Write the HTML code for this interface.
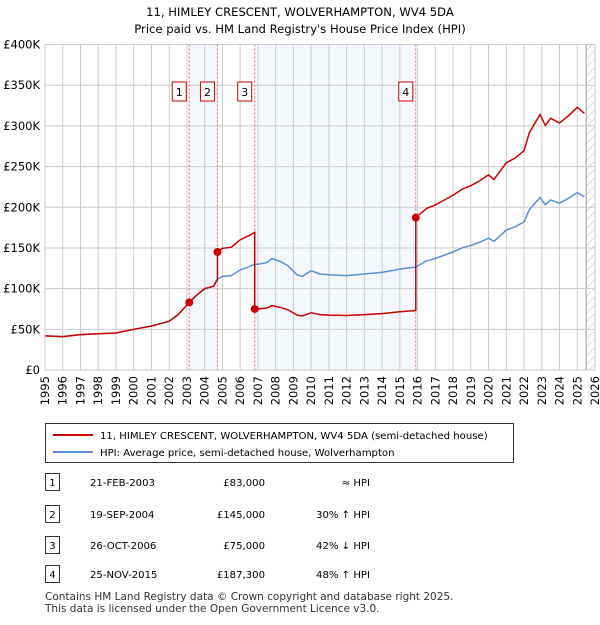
<!DOCTYPE html>
<html><head><meta charset="utf-8"><style>
body{margin:0;background:#fff;font-family:"Liberation Sans","DejaVu Sans",sans-serif;}
svg text{font-family:"DejaVu Sans","Liberation Sans",sans-serif;}
</style></head><body>
<svg id="c" width="600" height="620" viewBox="0 0 600 620" xmlns="http://www.w3.org/2000/svg">
<defs><pattern id="hatch" width="6" height="6" patternUnits="userSpaceOnUse" patternTransform="rotate(45)"><line x1="0" y1="0" x2="0" y2="6" stroke="#bbb" stroke-width="1"/></pattern></defs>
<text x="300" y="16" text-anchor="middle" font-size="11.6">11, HIMLEY CRESCENT, WOLVERHAMPTON, WV4 5DA</text>
<text x="300" y="33" text-anchor="middle" font-size="11.6">Price paid vs. HM Land Registry's House Price Index (HPI)</text>
<g id="plot"></g>
<g>
<rect x="45.5" y="423.5" width="468" height="39" fill="#fff" stroke="#333"/>
<line x1="53" y1="435" x2="93" y2="435" stroke="#cc0000" stroke-width="2"/>
<text x="100" y="439" font-size="10.1">11, HIMLEY CRESCENT, WOLVERHAMPTON, WV4 5DA (semi-detached house)</text>
<line x1="53" y1="452" x2="93" y2="452" stroke="#5b8fd6" stroke-width="2"/>
<text x="100" y="456" font-size="10.1">HPI: Average price, semi-detached house, Wolverhampton</text>
</g>
<g id="table" font-size="10.1"></g>
<text x="45" y="600" font-size="10.5" fill="#333">Contains HM Land Registry data © Crown copyright and database right 2025.</text>
<text x="45" y="612" font-size="10.5" fill="#333">This data is licensed under the Open Government Licence v3.0.</text>
</svg>
<script>
const hpiYears=[1995,1996,1997,1998,1999,2000,2001,2002,2002.5,2003.13,2003.5,2004,2004.5,2004.72,2005,2005.5,2006,2006.5,2006.82,2007,2007.5,2007.8,2008.3,2008.7,2009.2,2009.5,2010,2010.5,2011,2012,2013,2014,2015,2015.9,2016.5,2017,2017.5,2018,2018.5,2019,2019.5,2020,2020.3,2020.7,2021,2021.5,2022,2022.3,2022.9,2023.2,2023.5,2024,2024.5,2025,2025.4];
const hpiValues=[42,41,43.5,44.5,45.5,50,54,60,68,83,91,100,103,111.5,115,116,123,127,130,130,132,137,133,128,117,115,122,118,117,116,118,120,124,126.5,134,137,141,145,150,153,157,162,158,166,172,176,182,197,212,203,209,205,211,218,213];
const saleYears=[2003.13,2004.72,2006.82,2015.9];
const salePrices=[83,145,75,187.3];
const saleLabels=["1","2","3","4"];
const saleDates=["21-FEB-2003","19-SEP-2004","26-OCT-2006","25-NOV-2015"];
const salePriceText=["£83,000","£145,000","£75,000","£187,300"];
const saleHpiText=["≈ HPI","30% ↑ HPI","42% ↓ HPI","48% ↑ HPI"];
const yTicks=[0,50,100,150,200,250,300,350,400];
const yTickLabels=["£0","£50K","£100K","£150K","£200K","£250K","£300K","£350K","£400K"];

const X0=45,X1=595,Y0=370,Y1=44.5;
const xs=y=>X0+(y-1995)/(2026-1995)*(X1-X0);
const ys=v=>Y0-v/400*(Y0-Y1);
const NS="http://www.w3.org/2000/svg";
const plot=document.getElementById('plot');
function mk(t,a,p){const e=document.createElementNS(NS,t);for(const k in a)e.setAttribute(k,a[k]);(p||plot).appendChild(e);return e;}
function hpiAt(y){for(let i=0;i<hpiYears.length-1;i++){if(y>=hpiYears[i]&&y<=hpiYears[i+1]){const t=(y-hpiYears[i])/(hpiYears[i+1]-hpiYears[i]);return hpiValues[i]+t*(hpiValues[i+1]-hpiValues[i]);}}return hpiValues[hpiValues.length-1];}
const sh1=mk('rect',{x:xs(saleYears[0]),y:Y1,width:xs(saleYears[1])-xs(saleYears[0]),height:Y0-Y1,fill:'#eef2fc',opacity:0.7});


const sh2=mk('rect',{x:xs(saleYears[2]),y:Y1,width:xs(saleYears[3])-xs(saleYears[2]),height:Y0-Y1,fill:'#eef2fc',opacity:0.7});


const ht=mk('rect',{x:xs(2025.5),y:Y1,width:X1-xs(2025.5),height:Y0-Y1,fill:'url(#hatch)'});


mk('line',{x1:xs(2025.5),y1:Y1,x2:xs(2025.5),y2:Y0,stroke:'#999'});
for(let yr=1995;yr<=2026;yr++){
 const g=mk('line',{x1:xs(yr),y1:Y1,x2:xs(yr),y2:Y0,stroke:'#ccc'});
 
 
 const t=mk('text',{x:0,y:0,'font-size':11.5,'text-anchor':'end',transform:`translate(${xs(yr)+4},${Y0+6}) rotate(-90)`});
 t.textContent=yr;
 
 
}
yTicks.forEach((v,i)=>{
 const g=mk('line',{x1:X0,y1:ys(v),x2:X1,y2:ys(v),stroke:'#ccc'});
 
 
 const t=mk('text',{x:40,y:ys(v)+4,'font-size':11.5,'text-anchor':'end'});
 t.textContent=yTickLabels[i];
 
 
});
saleYears.forEach((y,i)=>{
 const l=mk('line',{x1:xs(y),y1:Y1,x2:xs(y),y2:Y0,stroke:'#f06060','stroke-dasharray':'2,2'});
 
 
 const b=mk('rect',{x:xs(y)-17,y:82,width:14,height:19,fill:'#fff',stroke:'#cc0000'});
 
 
 const t=mk('text',{x:xs(y)-10,y:96,'font-size':11,'text-anchor':'middle'});
 t.textContent=saleLabels[i];
 
 
});
const hp=hpiYears.map((y,i)=>xs(y)+','+ys(hpiValues[i])).join(' ');
const hl=mk('polyline',{points:hp,fill:'none',stroke:'#5b8fd6','stroke-width':1.5});


let pts=[];let ratio=salePrices[0]/hpiAt(saleYears[0]);let si=0;
hpiYears.forEach((y,i)=>{
 while(si<saleYears.length&&saleYears[si]<=y){
  const sy=saleYears[si];
  pts.push(xs(sy)+','+ys(hpiAt(sy)*ratio));
  ratio=salePrices[si]/hpiAt(sy);
  pts.push(xs(sy)+','+ys(salePrices[si]));
  si++;
 }
 pts.push(xs(y)+','+ys(hpiValues[i]*ratio));
});
const pl=mk('polyline',{points:pts.join(' '),fill:'none',stroke:'#cc0000','stroke-width':1.5});


saleYears.forEach((y,i)=>{
 const c=mk('circle',{cx:xs(y),cy:ys(salePrices[i]),r:4,fill:'#cc0000'});
 
 
});
mk('rect',{x:X0,y:Y1,width:X1-X0,height:Y0-Y1,fill:'none',stroke:'#ccc'});
const tb=document.getElementById('table');
const rowY=[483,515,546,575];
saleLabels.forEach((s,i)=>{
 const y=rowY[i];
 const b=mk('rect',{x:45.5,y:y-9.5,width:14,height:17,fill:'#fff',stroke:'#333'},tb);
 
 
 const vals=[[52.5,s,'middle'],[90,saleDates[i],'start'],[265,salePriceText[i],'end'],[370,saleHpiText[i],'end']];
 vals.forEach(v=>{
  const t=mk('text',{x:v[0],y:y+3,'text-anchor':v[2]},tb);
  t.textContent=v[1];
  
  
 });
});
</script>
</body></html>
